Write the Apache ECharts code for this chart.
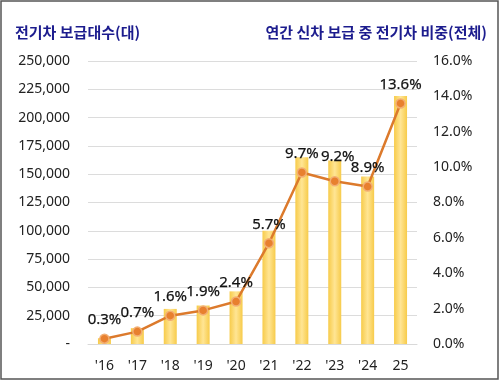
<!DOCTYPE html>
<html><head><meta charset="utf-8">
<script src="https://cdn.jsdelivr.net/npm/echarts@6/dist/echarts.min.js"></script>
<style>html,body{margin:0;padding:0;background:#fff}#c{width:500px;height:381px}</style>
</head><body><div id="c"></div>
<script>
const categories = ["'16","'17","'18","'19","'20","'21","'22","'23","'24","25"];
const evCounts = [5100, 14000, 31000, 34000, 46500, 100000, 165000, 162000, 148000, 219000];
const evShare = [0.3, 0.7, 1.6, 1.9, 2.4, 5.7, 9.7, 9.2, 8.9, 13.6];
const leftTicks = {min: 0, max: 250000, interval: 25000};
const rightTicks = {min: 0, max: 16, interval: 2};
const leftTitle = '전기차 보급대수(대)';
const rightTitle = '연간 신차 보급 중 전기차 비중(전체)';

const chart = echarts.init(document.getElementById('c'));
const font = '"Noto Sans", "Noto Sans CJK KR", sans-serif';
chart.setOption({
  animation: false,
  textStyle: {fontFamily: font},
  title: [
    {text: leftTitle, left: 10, top: 20, textStyle: {fontSize: 15, fontWeight: 'bold', color: '#1C1C8E', fontFamily: '"Noto Sans CJK KR", sans-serif'}},
    {text: rightTitle, right: 8, top: 20, textStyle: {fontSize: 15, fontWeight: 'bold', color: '#1C1C8E', fontFamily: '"Noto Sans CJK KR", sans-serif'}}
  ],
  graphic: [{type: 'rect', shape: {x: 1, y: 1, width: 497, height: 378}, style: {fill: 'none', stroke: '#555', lineWidth: 1.5}, z: 100}],
  grid: {left: 88, right: 83, top: 61, bottom: 37},
  xAxis: {
    type: 'category', data: categories,
    axisLine: {show: true, lineStyle: {color: '#D9D9D9'}},
    axisTick: {show: false},
    axisLabel: {color: '#222', fontSize: 14, margin: 15}
  },
  yAxis: [
    {type: 'value', min: leftTicks.min, max: leftTicks.max, interval: leftTicks.interval,
     axisLine: {show: false}, axisTick: {show: false},
     splitLine: {lineStyle: {color: '#DCDCDC'}},
     axisLabel: {color: '#222', fontSize: 14, margin: 18,
       formatter: v => v === 0 ? '-' : v.toLocaleString('en-US')}},
    {type: 'value', min: rightTicks.min, max: rightTicks.max, interval: rightTicks.interval,
     axisLine: {show: false}, axisTick: {show: false}, splitLine: {show: false},
     axisLabel: {color: '#222', fontSize: 14, margin: 16, formatter: v => v.toFixed(1) + '%'}}
  ],
  series: [
    {type: 'bar', data: evCounts, barWidth: 13, yAxisIndex: 0,
     itemStyle: {color: new echarts.graphic.LinearGradient(0, 0, 1, 0, [
       {offset: 0, color: '#F7CB4A'}, {offset: 0.5, color: '#FFE594'}, {offset: 1, color: '#F7CB4A'}])}},
    {type: 'line', yAxisIndex: 1, z: 5,
     data: evShare.map((v, i) => i === 7 ? {value: v, label: {distance: 12, offset: [3, 0]}} : v),
     lineStyle: {color: '#DC7A2C', width: 2.5},
     symbol: 'circle', symbolSize: 9,
     itemStyle: {color: '#E8802F', borderColor: '#F2AE73', borderWidth: 1.5},
     label: {show: true, position: 'top', distance: 6, color: '#111', fontSize: 15, fontWeight: 'normal',
       textBorderColor: '#111', textBorderWidth: 0.25,
       formatter: p => p.value.toFixed(1) + '%'}}
  ]
});
</script></body></html>
